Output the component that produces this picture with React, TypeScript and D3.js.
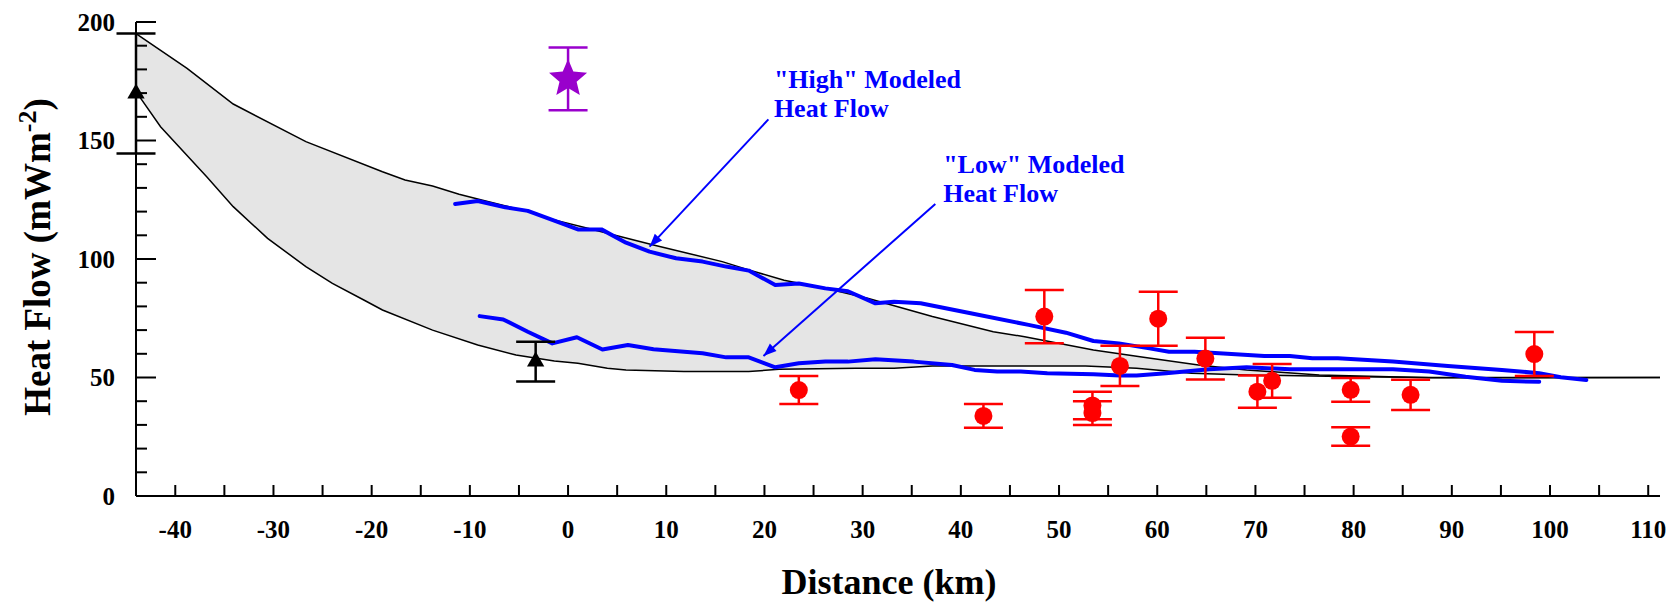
import React from "react";
import * as d3 from "d3";

// ---- Data ----
const upperEnvX = [-44, -38.8, -34.1, -26.7, -18.9, -16.6, -13.8, -11.1, -8.8, -4.1, -1.4, 2, 8.7, 15.7, 18.4, 22, 26.2, 30.5, 37.1, 43.3, 46.5, 53.5, 58.6, 64.2, 69.1, 76.5, 87.7, 111.2];
const upperEnvY = [195.1, 180.4, 165.4, 149.5, 136.8, 133.3, 130.8, 127.3, 124.9, 120, 116.5, 113, 105.9, 98.9, 95.4, 91, 87.6, 83.4, 75.7, 69.3, 67.2, 61.6, 58.5, 55.3, 53.2, 51.1, 49.9, 50];
const lowerEnvX = [-44, -41.5, -36.8, -34.1, -30.6, -26.7, -24, -20.8, -18.9, -13.8, -9.2, -5.3, -1.4, 1, 4, 5.9, 11.8, 18.4, 21.5, 29.3, 33.2, 37.1, 52.7, 57.9, 63.5, 70, 80.2, 88, 111.2];
const lowerEnvY = [170.6, 155.8, 134.7, 122.1, 108.7, 96.8, 89.7, 82.7, 78.5, 70, 63.7, 59.5, 57, 56, 53.9, 53.2, 52.5, 52.5, 53.5, 53.9, 53.9, 54.9, 54.9, 53.9, 51.8, 51, 50.3, 50, 50];

const highModelX = [-11.5, -9.2, -6.4, -4.1, -1.4, 1.0, 3.4, 5.9, 8.3, 11.0, 13.7, 16.1, 18.4, 21.1, 23.5, 26.2, 28.5, 31.3, 33.2, 35.9, 41.0, 46.9, 50.7, 53.5, 56.1, 59.2, 61.2, 63.8, 70.9, 73.5, 75.8, 78.4, 84.0, 89.6, 95.1, 98.9, 101.1, 103.7];
const highModelY = [123.2, 124.5, 121.8, 120.3, 116.2, 112.5, 112.5, 106.9, 103.1, 100.3, 98.9, 96.8, 95.1, 89, 89.7, 87.6, 86.4, 81.3, 82, 81.3, 77.1, 72.2, 68.9, 65.4, 64.4, 62.3, 60.9, 60.9, 59.1, 59.1, 58.1, 58.1, 56.7, 54.9, 53.2, 51.8, 50.1, 48.9];
const lowModelX = [-9.0, -6.6, -4.1, -1.6, 0.9, 3.5, 6.1, 8.7, 13.7, 16.1, 18.4, 21.1, 23.5, 26.2, 28.5, 31.3, 35.2, 39.1, 41.4, 43.7, 46.1, 48.8, 53.5, 56.2, 57.9, 60.9, 65.3, 69.1, 73.5, 78.4, 84.0, 87.7, 91.4, 95.1, 98.9];
const lowModelY = [75.9, 74.5, 69.3, 64.4, 67, 61.8, 63.7, 61.9, 60.2, 58.5, 58.5, 54.3, 56, 56.7, 56.7, 57.7, 56.7, 55.3, 53.2, 52.5, 52.5, 51.8, 51.4, 50.8, 50.8, 51.8, 53.5, 54.3, 53.5, 53.5, 53.5, 52.5, 50.3, 48.6, 48.2];

const redDist = [23.5, 42.3, 48.5, 53.4, 53.4, 56.2, 60.1, 64.9, 70.2, 71.7, 79.7, 79.7, 85.8, 98.4];
const redFlow = [44.7, 33.8, 75.7, 38.2, 35.0, 54.9, 74.8, 58.0, 44.0, 48.6, 44.8, 25.1, 42.7, 59.9];
const redErr = [5.9, 5.0, 11.2, 5.8, 5.0, 8.5, 11.4, 8.8, 6.8, 7.1, 5.0, 3.9, 6.4, 9.3];

const triDist = [-44, -3.3];
const triFlow = [169.8, 56.7];
const triErr = [25.3, 8.4];

const starDist = [0];
const starFlow = [176];
const starErr = [13.2];

const xTickValues = d3.range(-40, 111, 5);
const xTickLabels = d3.range(-40, 111, 10);
const yMinorTicks = d3.range(10, 200, 10).filter((v) => v % 50 !== 0);
const yMajorTicks = [50, 100, 150, 200];
const yTickLabels = [0, 50, 100, 150, 200];

const annotLines = [['"High" Modeled', "Heat Flow"], ['"Low" Modeled', "Heat Flow"]];
const annotTextX = [20.96, 38.2];
const annotTextY = [172, 136.2];
const arrowFromX = [20.4, 37.4];
const arrowFromY = [158.9, 123.2];
const arrowToX = [8.3, 19.9];
const arrowToY = [105.2, 59.1];

const FONT = "'Liberation Serif', 'Times New Roman', Times, serif";

// custom five-point star with fatter arms
const fatStar = {
  draw(context: any, size: number) {
    const R = Math.sqrt(size / 1.3);
    const r = R * 0.45;
    for (let i = 0; i < 10; i++) {
      const a = -Math.PI / 2 + (i * Math.PI) / 5;
      const rad = i % 2 === 0 ? R : r;
      const px = Math.cos(a) * rad, py = Math.sin(a) * rad;
      if (i === 0) context.moveTo(px, py);
      else context.lineTo(px, py);
    }
    context.closePath();
  },
};

export default function App() {
  const W = 1674, H = 605;
  const x = d3.scaleLinear().domain([-44, 111.2]).range([136, 1660]);
  const y = d3.scaleLinear().domain([0, 200]).range([496, 22]);

  const zip = (a: number[], b: number[]) => a.map((v, i) => [v, b[i]] as [number, number]);
  const line = d3.line<[number, number]>().x((d) => x(d[0])).y((d) => y(d[1]));

  const upper = zip(upperEnvX, upperEnvY);
  const lower = zip(lowerEnvX, lowerEnvY);
  const polygon = upper.concat(lower.slice().reverse());
  const fillPath = line(polygon) + "Z";

  const capHalf = 19.5;
  const errBar = (cx: number, v: number, e: number, color: string, key: string) => (
    <g key={key} stroke={color} strokeWidth={2.5}>
      <line x1={x(cx)} x2={x(cx)} y1={y(v - e)} y2={y(v + e)} />
      <line x1={x(cx) - capHalf} x2={x(cx) + capHalf} y1={y(v - e)} y2={y(v - e)} />
      <line x1={x(cx) - capHalf} x2={x(cx) + capHalf} y1={y(v + e)} y2={y(v + e)} />
    </g>
  );

  const triSym = d3.symbol().type(d3.symbolTriangle).size(130)();
  const starSym = d3.symbol().type(fatStar as any).size(520)();

  const arrowHead = (x1: number, y1: number, x2: number, y2: number) => {
    const dx = x2 - x1, dy = y2 - y1;
    const len = Math.hypot(dx, dy);
    const ux = dx / len, uy = dy / len;
    const L = 13, Wd = 5;
    const bx = x2 - ux * L, by = y2 - uy * L;
    return `M${x2},${y2}L${bx - uy * Wd},${by + ux * Wd}L${bx + uy * Wd},${by - ux * Wd}Z`;
  };

  return (
    <svg width={W} height={H} style={{ position: "absolute", left: 0, top: 0, background: "#fff" }}>
      <rect x={0} y={0} width={W} height={H} fill="#fff" />
      {/* envelope fill */}
      <path d={fillPath} fill="#e5e5e5" stroke="none" />
      <path d={line(upper) || ""} fill="none" stroke="#000" strokeWidth={1.5} />
      <path d={line(lower) || ""} fill="none" stroke="#000" strokeWidth={1.5} />

      {/* model lines */}
      <path d={line(zip(highModelX, highModelY)) || ""} fill="none" stroke="#0000ff" strokeWidth={4} strokeLinejoin="round" strokeLinecap="round" />
      <path d={line(zip(lowModelX, lowModelY)) || ""} fill="none" stroke="#0000ff" strokeWidth={4} strokeLinejoin="round" strokeLinecap="round" />

      {/* axes */}
      <g stroke="#000" strokeWidth={2}>
        <line x1={x(-44)} x2={x(111.2)} y1={y(0)} y2={y(0)} />
        <line x1={x(-44)} x2={x(-44)} y1={y(0)} y2={y(200)} />
        {xTickValues.map((v) => (
          <line key={"xt" + v} x1={x(v)} x2={x(v)} y1={y(0)} y2={y(0) - 11} />
        ))}
        {yMinorTicks.map((v) => (
          <line key={"ymt" + v} x1={x(-44)} x2={x(-44) + 11} y1={y(v)} y2={y(v)} />
        ))}
        {yMajorTicks.map((v) => (
          <line key={"yMt" + v} x1={x(-44)} x2={x(-44) + 20} y1={y(v)} y2={y(v)} />
        ))}
      </g>
      <g fontFamily={FONT} fontWeight="bold" fontSize={25} fill="#000">
        {xTickLabels.map((v) => (
          <text key={"xl" + v} x={x(v)} y={y(0) + 42} textAnchor="middle">{v}</text>
        ))}
        {yTickLabels.map((v) => (
          <text key={"yl" + v} x={x(-44) - 21} y={y(v)} dy="0.35em" textAnchor="end">{v}</text>
        ))}
      </g>
      <text x={889} y={594} textAnchor="middle" fontFamily={FONT} fontWeight="bold" fontSize={36}>Distance (km)</text>
      <text transform={`translate(50,257) rotate(-90)`} textAnchor="middle" fontFamily={FONT} fontWeight="bold" fontSize={37}>
        Heat Flow (mWm<tspan baselineShift="super" fontSize={26}>-2</tspan>)
      </text>

      {/* annotations */}
      {annotLines.map((ls, i) => (
        <g key={"an" + i}>
          <text x={x(annotTextX[i])} y={y(annotTextY[i])} fontFamily={FONT} fontWeight="bold" fontSize={26} fill="#0000ff">
            {ls.map((t, j) => (
              <tspan key={j} x={x(annotTextX[i])} dy={j === 0 ? 0 : 28.4}>{t}</tspan>
            ))}
          </text>
          <line x1={x(arrowFromX[i])} y1={y(arrowFromY[i])} x2={x(arrowToX[i])} y2={y(arrowToY[i])} stroke="#0000ff" strokeWidth={2} />
          <path d={arrowHead(x(arrowFromX[i]), y(arrowFromY[i]), x(arrowToX[i]), y(arrowToY[i]))} fill="#0000ff" />
        </g>
      ))}

      {/* red data */}
      {redDist.map((d, i) => errBar(d, redFlow[i], redErr[i], "#ff0000", "re" + i))}
      {redDist.map((d, i) => (
        <circle key={"rc" + i} cx={x(d)} cy={y(redFlow[i])} r={9} fill="#ff0000" />
      ))}

      {/* triangles */}
      {triDist.map((d, i) => errBar(d, triFlow[i], triErr[i], "#000", "te" + i))}
      {triDist.map((d, i) => (
        <path key={"tp" + i} d={triSym || ""} transform={`translate(${x(d)},${y(triFlow[i])})`} fill="#000" />
      ))}

      {/* star */}
      {starDist.map((d, i) => errBar(d, starFlow[i], starErr[i], "#9900cc", "se" + i))}
      {starDist.map((d, i) => (
        <path key={"sp" + i} d={starSym || ""} transform={`translate(${x(d)},${y(starFlow[i])})`} fill="#9900cc" />
      ))}
    </svg>
  );
}
